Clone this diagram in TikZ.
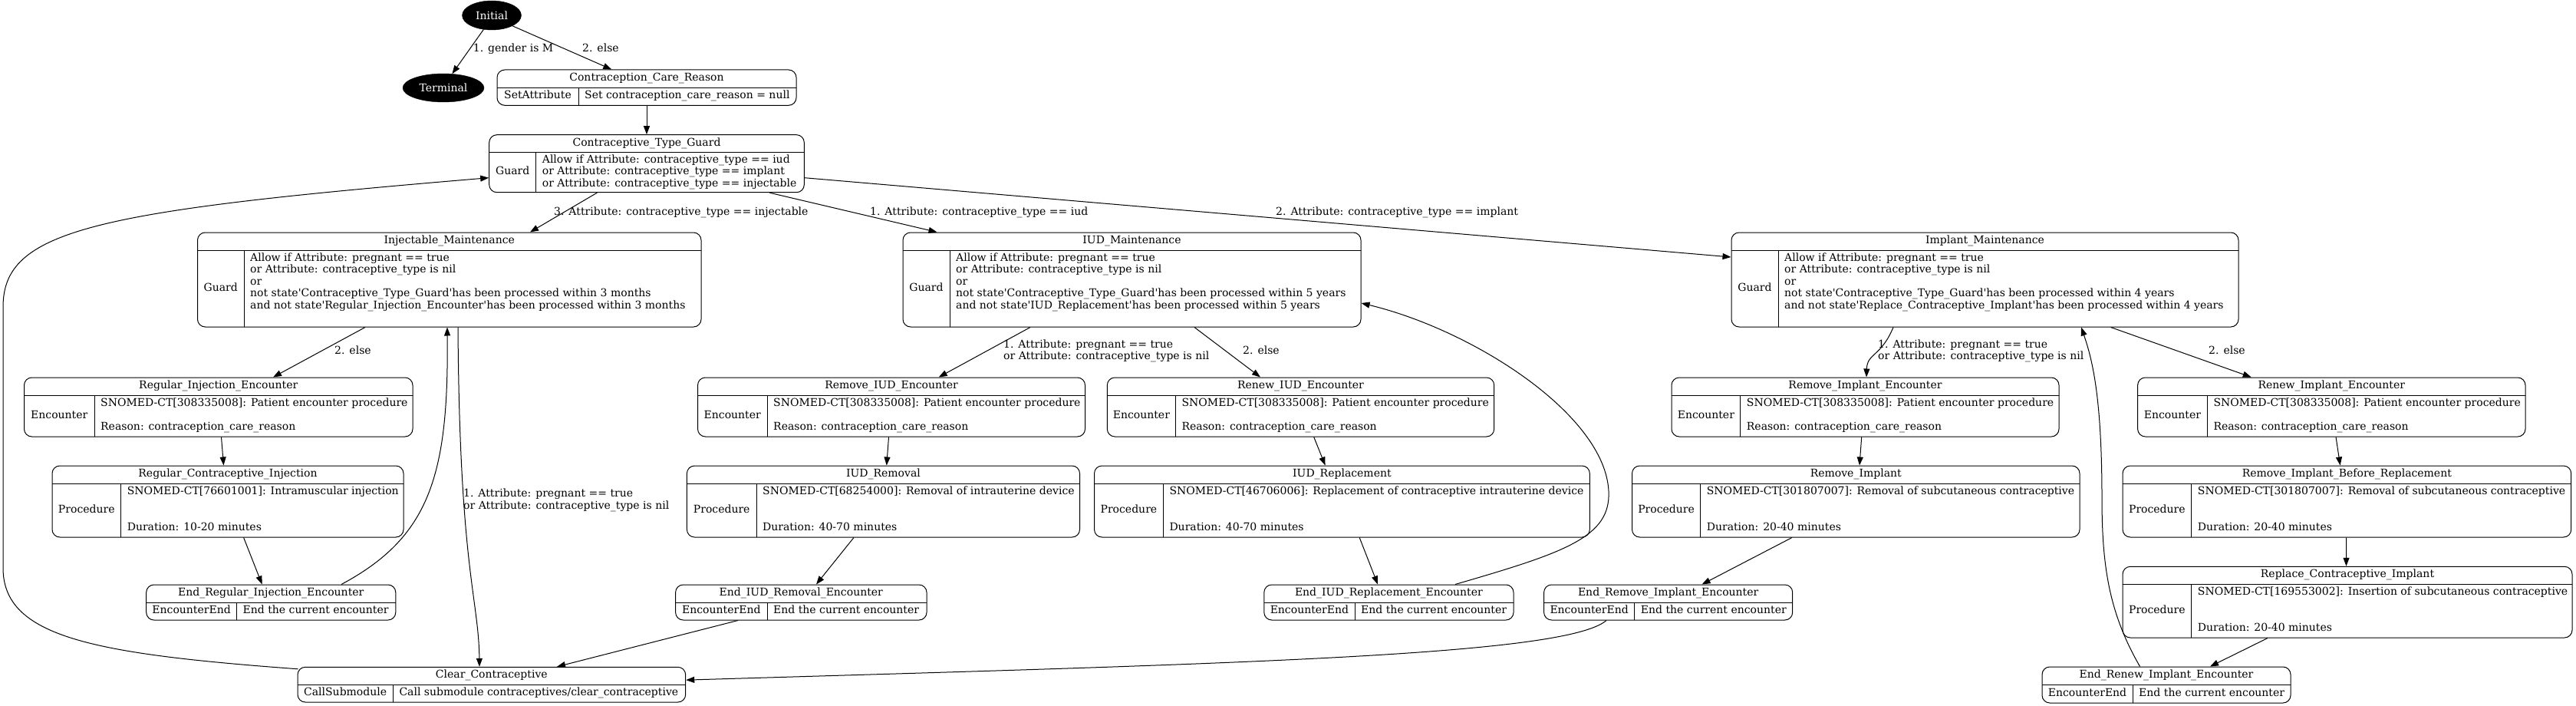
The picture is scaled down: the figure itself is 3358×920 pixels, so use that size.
\documentclass[tikz,border=0pt]{standalone}
\usepackage{fontspec}
\setmainfont{DejaVu Serif}
\usetikzlibrary{arrows.meta,shapes.geometric}
\newcommand\sq{\textquotesingle}
\tikzset{
  recshape/.style={draw, rounded corners=10pt, line width=1pt, inner sep=0pt},
  txt/.style={font=\fontsize{14}{15.5}\selectfont, inner sep=0pt,
              execute at begin node=\strut, execute at end node=\strut},
  conn/.style={draw, line width=1pt, -{Triangle[length=11pt,width=8pt]}},
  elab/.style={txt, anchor=west, align=left},
  blk/.style={ellipse, draw=black, fill=black, text=white, inner sep=0pt,
              font=\fontsize{14}{15.5}\selectfont},
}
% name, left, top, right, bottom, column divider, title, label, body
\newcommand\mkrec[9]{%
  \node[recshape, minimum width={#4pt-#2pt}, minimum height={#5pt-#3pt}] (#1) at ({(#2+#4)/2},{(#3+#5)/2}) {};
  \draw[line width=0.9pt] (#2,#3+23) -- (#4,#3+23);
  \draw[line width=0.9pt] (#6,#3+23) -- (#6,#5);
  \node[txt] (#1t) at ({(#2+#4)/2},#3+11.5) {#7};
  \node[txt] (#1l) at ({(#2+#6)/2},{(#3+23+#5)/2}) {#8};
  \node[txt, anchor=west, align=left] (#1b) at (#6+8,{(#3+23+#5)/2}) {#9};
}
\begin{document}
\begin{tikzpicture}[x=1pt,y=-1pt]
\useasboundingbox (0,0) rectangle (3358,920);

% start / end states
\node[blk, minimum width=77pt, minimum height=38pt] (init) at (641,20) {Initial};
\node[blk, minimum width=106pt, minimum height=37pt] (term) at (578,114.5) {Terminal};

% record states
\mkrec{ccr}{648}{91}{1038}{137.3}{754}{Contraception\_Care\_Reason}{SetAttribute}{Set contraception\_care\_reason = null}
\mkrec{ctg}{637.7}{175.7}{1048.3}{250.7}{698.7}{Contraceptive\_Type\_Guard}{Guard}{Allow if Attribute: contraceptive\_type == iud\\or Attribute: contraceptive\_type == implant\\or Attribute: contraceptive\_type == injectable}

\mkrec{inj}{257.5}{303}{914}{426}{318}{Injectable\_Maintenance}{Guard}{Allow if Attribute: pregnant == true\\or Attribute: contraceptive\_type is nil\\or\\not state\sq Contraceptive\_Type\_Guard\sq has been processed within 3 months\\and not state\sq Regular\_Injection\_Encounter\sq has been processed within 3 months\\\mbox{}}
\mkrec{iudm}{1177}{303}{1774}{426}{1238}{IUD\_Maintenance}{Guard}{Allow if Attribute: pregnant == true\\or Attribute: contraceptive\_type is nil\\or\\not state\sq Contraceptive\_Type\_Guard\sq has been processed within 5 years\\and not state\sq IUD\_Replacement\sq has been processed within 5 years\\\mbox{}}
\mkrec{imp}{2257}{303}{2918}{426}{2318}{Implant\_Maintenance}{Guard}{Allow if Attribute: pregnant == true\\or Attribute: contraceptive\_type is nil\\or\\not state\sq Contraceptive\_Type\_Guard\sq has been processed within 4 years\\and not state\sq Replace\_Contraceptive\_Implant\sq has been processed within 4 years\\\mbox{}}

\mkrec{rie}{31.5}{492}{538}{569}{123}{Regular\_Injection\_Encounter}{Encounter}{SNOMED-CT[308335008]: Patient encounter procedure\\\mbox{}\\Reason: contraception\_care\_reason}
\mkrec{riude}{909.5}{492}{1414.5}{569}{1000}{Remove\_IUD\_Encounter}{Encounter}{SNOMED-CT[308335008]: Patient encounter procedure\\\mbox{}\\Reason: contraception\_care\_reason}
\mkrec{rniude}{1443.3}{492}{1947.7}{569}{1532.4}{Renew\_IUD\_Encounter}{Encounter}{SNOMED-CT[308335008]: Patient encounter procedure\\\mbox{}\\Reason: contraception\_care\_reason}
\mkrec{rmie}{2179}{492}{2684}{569}{2268.7}{Remove\_Implant\_Encounter}{Encounter}{SNOMED-CT[308335008]: Patient encounter procedure\\\mbox{}\\Reason: contraception\_care\_reason}
\mkrec{rnie}{2786.6}{492}{3292}{569}{2877.3}{Renew\_Implant\_Encounter}{Encounter}{SNOMED-CT[308335008]: Patient encounter procedure\\\mbox{}\\Reason: contraception\_care\_reason}

\mkrec{rci}{68}{607}{526}{700}{157.6}{Regular\_Contraceptive\_Injection}{Procedure}{SNOMED-CT[76601001]: Intramuscular injection\\\mbox{}\\\mbox{}\\Duration: 10-20 minutes}
\mkrec{iudrm}{895.4}{607}{1407.5}{700}{986}{IUD\_Removal}{Procedure}{SNOMED-CT[68254000]: Removal of intrauterine device\\\mbox{}\\\mbox{}\\Duration: 40-70 minutes}
\mkrec{iudrp}{1426.5}{607}{2072.3}{700}{1516.3}{IUD\_Replacement}{Procedure}{SNOMED-CT[46706006]: Replacement of contraceptive intrauterine device\\\mbox{}\\\mbox{}\\Duration: 40-70 minutes}
\mkrec{rmi}{2127.5}{607}{2711}{700}{2216.6}{Remove\_Implant}{Procedure}{SNOMED-CT[301807007]: Removal of subcutaneous contraceptive\\\mbox{}\\\mbox{}\\Duration: 20-40 minutes}
\mkrec{ribr}{2767}{607}{3351.7}{700}{2856.7}{Remove\_Implant\_Before\_Replacement}{Procedure}{SNOMED-CT[301807007]: Removal of subcutaneous contraceptive\\\mbox{}\\\mbox{}\\Duration: 20-40 minutes}
\mkrec{rpl}{2767}{738.3}{3353}{831}{2856.7}{Replace\_Contraceptive\_Implant}{Procedure}{SNOMED-CT[169553002]: Insertion of subcutaneous contraceptive\\\mbox{}\\\mbox{}\\Duration: 20-40 minutes}

\mkrec{erie}{190.7}{762}{515.8}{808}{308.5}{End\_Regular\_Injection\_Encounter}{EncounterEnd}{End the current encounter}
\mkrec{eiudrm}{880.6}{762}{1208}{808}{1000}{End\_IUD\_Removal\_Encounter}{EncounterEnd}{End the current encounter}
\mkrec{eiudrp}{1647.8}{762}{1973}{808}{1766}{End\_IUD\_Replacement\_Encounter}{EncounterEnd}{End the current encounter}
\mkrec{ermie}{2012.6}{762}{2336.7}{808}{2130.7}{End\_Remove\_Implant\_Encounter}{EncounterEnd}{End the current encounter}
\mkrec{erne}{2662}{869}{2986}{916}{2780}{End\_Renew\_Implant\_Encounter}{EncounterEnd}{End the current encounter}
\mkrec{clr}{388}{869.3}{893.7}{915}{512.3}{Clear\_Contraceptive}{CallSubmodule}{Call submodule contraceptives/clear\_contraceptive}

% connectors
\draw[conn] (init.240) -- (term.58);
\draw[conn] (init.-27) -- ([xshift=-45.7pt]ccr.north);
\draw[conn] (ccr.south) -- (ctg.north);
\draw[conn] ([xshift=-64.7pt]ctg.south) -- ([xshift=105.2pt]inj.north);
\draw[conn] ([xshift=160.3pt]ctg.south) -- ([xshift=-254pt]iudm.north);
\draw[conn] ([yshift=-18.5pt]ctg.east) -- ([yshift=29.5pt]imp.west);

\draw[conn] ([xshift=-109.75pt]inj.south) -- ([xshift=71.25pt]rie.north);
\draw[conn] ([xshift=11.25pt]inj.south) .. controls (599,740) and (624,780) .. ([xshift=-15.85pt]clr.north);
\draw[conn] ([xshift=91.75pt]erie.north) .. controls (560,700) and (585,620) .. ([xshift=-2.75pt]inj.south);
\draw[conn] ([xshift=3.75pt]rie.south) -- ([xshift=-5.5pt]rci.north);
\draw[conn] ([xshift=20.6pt]rci.south) -- ([xshift=-11.65pt]erie.north);
\draw[conn] ([xshift=1pt,yshift=-3pt]clr.north west) .. controls (120,852) and (4,830) .. (4,740) -- (4,400) .. controls (4,300) and (120,275) .. ([yshift=-18.5pt]ctg.west);

\draw[conn] ([xshift=-132.5pt]iudm.south) -- ([xshift=61.7pt]riude.north);
\draw[conn] ([xshift=81.5pt]iudm.south) -- ([xshift=-52.5pt]rniude.north);
\draw[conn] ([xshift=-3.5pt]riude.south) -- ([xshift=4.25pt]iudrm.north);
\draw[conn] ([xshift=17.2pt]rniude.south) -- ([xshift=-21.85pt]iudrp.north);
\draw[conn] ([xshift=-38.45pt]iudrm.south) -- ([xshift=19.7pt]eiudrm.north);
\draw[conn] ([xshift=-82.3pt]eiudrm.south) -- ([xshift=85.15pt]clr.north);
\draw[conn] ([xshift=22.75pt]iudrp.south) -- ([xshift=-14.4pt]eiudrp.north);
\draw[conn] ([xshift=86.6pt]eiudrp.north) .. controls (2040,720) and (2100,700) .. (2097,640) .. controls (2092,540) and (1920,430) .. ([yshift=-30.5pt]iudm.east);

\draw[conn] ([xshift=-119.5pt]imp.south) .. controls (2452,465) and (2434,460) .. ([xshift=1.5pt]rmie.north);
\draw[conn] ([xshift=164.1pt]imp.south) -- ([xshift=-104.6pt]rnie.north);
\draw[conn] ([xshift=-4.8pt]rmie.south) -- ([xshift=4.75pt]rmi.north);
\draw[conn] ([xshift=5.7pt]rnie.south) -- ([xshift=-8.75pt]ribr.north);
\draw[conn] ([xshift=-83.25pt]rmi.south) -- ([xshift=43.95pt]ermie.north);
\draw[conn] ([xshift=-0.85pt]ribr.south) -- ([xshift=-1.5pt]rpl.north);
\draw[conn] ([xshift=-104pt]rpl.south) -- ([xshift=57pt]erne.north);
\draw[conn] ([xshift=-34.5pt]erne.north) .. controls (2750,800) and (2740,740) .. (2740,650) .. controls (2740,520) and (2728,470) .. ([xshift=125.5pt]imp.south);
\draw[conn] ([xshift=-80.65pt]ermie.south) .. controls (2040,855) and (1600,865) .. ([yshift=6pt]clr.east);

% connector labels
\node[elab] (lgender) at (616.7,64.3) {1. gender is M};
\node[elab] (lelse0) at (759,64.3) {2. else};
\node[elab] (linj) at (722,277) {3. Attribute: contraceptive\_type == injectable};
\node[elab] (liud) at (1134,277) {1. Attribute: contraceptive\_type == iud};
\node[elab] (limp) at (1663,277) {2. Attribute: contraceptive\_type == implant};
\node[elab] (lelse1) at (436,458) {2. else};
\node[elab] (lpreg1) at (604,652.5) {1. Attribute: pregnant == true\\or Attribute: contraceptive\_type is nil};
\node[elab] (lpreg2) at (1308,458) {1. Attribute: pregnant == true\\or Attribute: contraceptive\_type is nil};
\node[elab] (lelse2) at (1620,458) {2. else};
\node[elab] (lpreg3) at (2448,458) {1. Attribute: pregnant == true\\or Attribute: contraceptive\_type is nil};
\node[elab] (lelse3) at (2879,458) {2. else};
\end{tikzpicture}
\end{document}
